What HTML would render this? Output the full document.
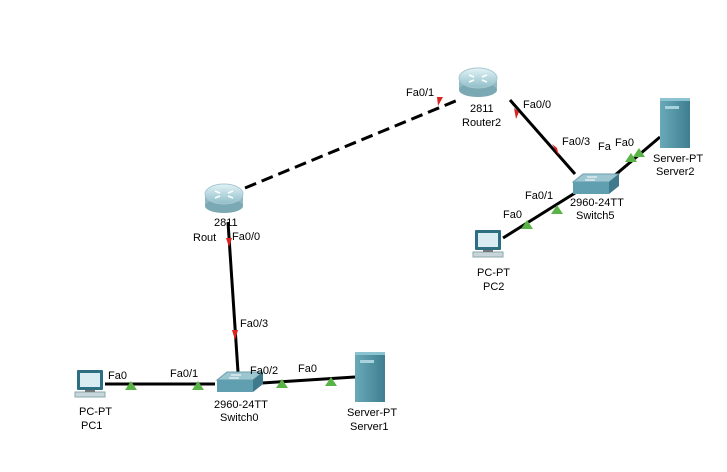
<!DOCTYPE html><html><head><style>html,body{margin:0;background:#fff;overflow:hidden;width:727px;height:472px}svg{display:block}svg text{font-family:"Liberation Sans",sans-serif;font-size:11px;fill:#000}</style></head><body>
<svg width="727" height="472" xmlns="http://www.w3.org/2000/svg">
<defs>
<linearGradient id="rg" x1="0" y1="0" x2="0" y2="1"><stop offset="0" stop-color="#e2f3f6"/><stop offset="1" stop-color="#8fbec9"/></linearGradient>
<linearGradient id="sg" x1="0" y1="0" x2="1" y2="0"><stop offset="0" stop-color="#6aa9b8"/><stop offset="1" stop-color="#3f7e90"/></linearGradient>
<g id="router"><rect x="-19" y="-3" width="38" height="12" fill="#8fb9c3"/><ellipse cx="0" cy="9" rx="19" ry="7" fill="#7aa8b3"/><ellipse cx="0" cy="-3" rx="19" ry="10" fill="url(#rg)" stroke="#a8c8d0"/><path d="M-9,-6 l5,2 M9,-6 l-5,2 M-9,1 l5,-2 M9,1 l-5,-2" stroke="#fff" stroke-width="1.5"/></g>
<g id="switch"><polygon points="0,8 10,0 46,0 36,8" fill="#9cc6d0" stroke="#6d9eab"/><rect x="0" y="8" width="36" height="12" fill="#5f9fb0"/><polygon points="36,8 46,0 46,12 36,20" fill="#3e7a8b"/><path d="M14,3 h10 M12,6 h10" stroke="#fff"/></g>
<g id="pc"><rect x="2" y="0" width="26" height="20" fill="#2d6e83" rx="1"/><rect x="5" y="3" width="20" height="14" fill="#d9ecf2"/><rect x="0" y="22" width="30" height="5" fill="#c8d6db" stroke="#8aa"/><rect x="10" y="20" width="10" height="2" fill="#777"/></g>
<g id="server"><rect x="0" y="0" width="30" height="50" fill="url(#sg)"/><rect x="0" y="0" width="30" height="3" fill="#8cc3d0"/><rect x="5" y="8" width="14" height="3" fill="#a8d2dc"/></g>
</defs>
<g stroke="#000" stroke-width="3" fill="none">
<line x1="245" y1="188" x2="458" y2="100" stroke-dasharray="12,6"/>
<line x1="228" y1="222" x2="238" y2="372"/>
<line x1="105" y1="384" x2="215" y2="384"/>
<line x1="262" y1="383" x2="355" y2="377"/>
<line x1="510" y1="100" x2="575" y2="174"/>
<line x1="614" y1="176" x2="660" y2="137"/>
<line x1="503" y1="238" x2="575" y2="193"/>
</g>
<g fill="#d22">
<polygon points="437,97 443,97 438,106"/>
<polygon points="514,108 519,112 516,119"/>
<polygon points="552,144 557,148 559,156"/>
<polygon points="226,238 232,238 229,247"/>
<polygon points="232,330 238,330 235,340"/>
</g>
<g fill="#5ab346">
<polygon points="125,390 131,381 137,390"/>
<polygon points="192,390 198,381 204,390"/>
<polygon points="276,388 282,379 288,388"/>
<polygon points="325,386 331,377 337,386"/>
<polygon points="521,229 527,220 533,229"/>
<polygon points="551,214 557,205 563,214"/>
<polygon points="625,162 631,153 637,162"/>
<polygon points="633,157 639,148 645,157"/>
</g>
<use href="#router" x="224" y="197"/>
<use href="#router" x="478" y="81"/>
<use href="#switch" x="217" y="372"/>
<use href="#switch" x="573" y="174"/>
<use href="#pc" x="75" y="370"/>
<use href="#pc" x="473" y="230"/>
<use href="#server" x="355" y="352"/>
<use href="#server" x="660" y="98"/>
<text x="214" y="226">2811</text><text x="193" y="241">Rout</text><text x="232" y="240">Fa0/0</text>
<text x="470" y="112">2811</text><text x="462" y="126">Router2</text>
<text x="406" y="96">Fa0/1</text><text x="523" y="108">Fa0/0</text>
<text x="562" y="145">Fa0/3</text><text x="598" y="150">Fa</text><text x="615" y="146">Fa0</text>
<text x="653" y="162">Server-PT</text><text x="656" y="175">Server2</text>
<text x="525" y="199">Fa0/1</text><text x="570" y="206">2960-24TT</text><text x="576" y="219">Switch5</text>
<text x="503" y="218">Fa0</text><text x="477" y="276">PC-PT</text><text x="483" y="290">PC2</text>
<text x="240" y="327">Fa0/3</text>
<text x="108" y="379">Fa0</text><text x="170" y="377">Fa0/1</text><text x="250" y="374">Fa0/2</text><text x="298" y="372">Fa0</text>
<text x="214" y="408">2960-24TT</text><text x="220" y="421">Switch0</text>
<text x="79" y="415">PC-PT</text><text x="81" y="429">PC1</text>
<text x="347" y="416">Server-PT</text><text x="350" y="430">Server1</text>
</svg></body></html>
